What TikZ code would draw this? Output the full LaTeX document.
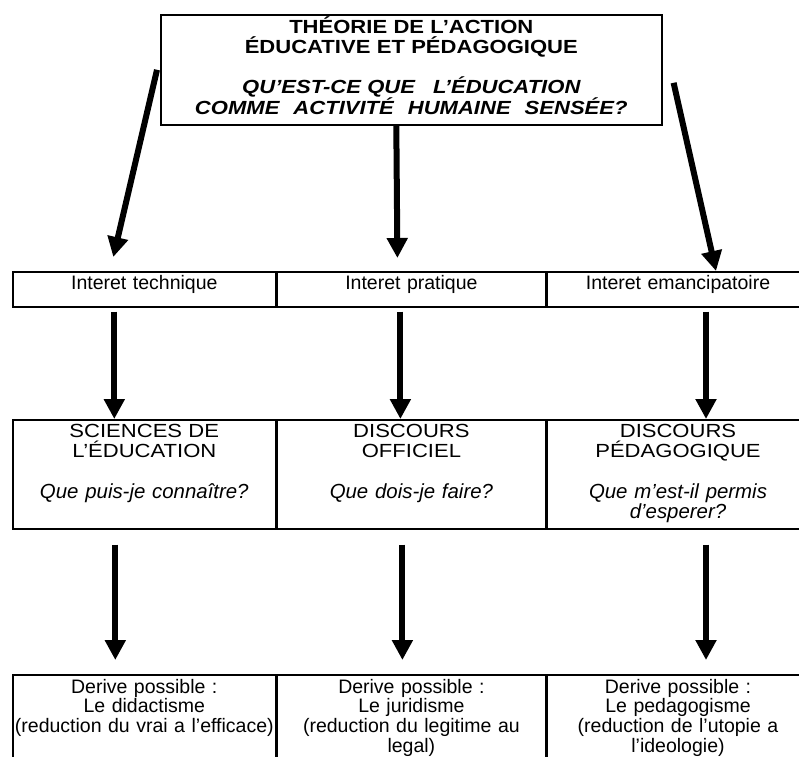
\documentclass[tikz,border=0pt]{standalone}
\usepackage{fontspec}
\setmainfont{Liberation Sans}
\newfontfamily\widefont{Liberation Sans}[FakeStretch=1.16]
\usetikzlibrary{positioning,calc,arrows.meta}

\begin{document}
\begin{tikzpicture}[x=1pt,y=-1pt,
    cell/.style={draw,line width=1.6pt,anchor=north west,inner sep=0pt},
    txt/.style={anchor=base,text width=280pt,align=center,inner sep=0pt},
    caps/.style={font=\widefont\fontsize{19}{20}\selectfont},
    plain/.style={font=\fontsize{19.5}{19.7}\selectfont},
    ital/.style={font=\itshape\fontsize{20.4}{20}\selectfont},
    arr/.style={line width=6pt,-{Triangle[length=20pt,width=20pt]}}]
  \useasboundingbox (0,0) rectangle (799,756);

  %% Boxes.
  % top box
  \node[cell,minimum width=501pt,minimum height=110pt] (theory) at (160,14) {};
  % interets
  \node[cell,minimum width=263pt,minimum height=35pt] (tech) at (12,271) {};
  \node[cell,minimum width=268pt,minimum height=35pt] (prat) at (tech.north east) {};
  \node[cell,minimum width=262pt,minimum height=35pt] (eman) at (prat.north east) {};
  % discours
  \node[cell,minimum width=263pt,minimum height=109pt] (sci) at (12,419) {};
  \node[cell,minimum width=268pt,minimum height=109pt] (off) at (sci.north east) {};
  \node[cell,minimum width=262pt,minimum height=109pt] (ped) at (off.north east) {};
  % derives
  \node[cell,minimum width=263pt,minimum height=100pt] (did) at (12,674) {};
  \node[cell,minimum width=268pt,minimum height=100pt] (jur) at (did.north east) {};
  \node[cell,minimum width=262pt,minimum height=100pt] (pedag) at (jur.north east) {};

  %% Texts.
  \node[txt,text width=490pt,font=\widefont\bfseries\fontsize{19}{20}\selectfont]
    (title) at ([yshift=-19pt]theory.north) {THÉORIE DE L’ACTION\\ÉDUCATIVE ET PÉDAGOGIQUE};
  \node[txt,text width=490pt,font=\widefont\bfseries\itshape\fontsize{19}{20}\selectfont]
    (question) at ([yshift=-79pt]theory.north)
    {QU’EST-CE QUE\hspace{18pt}L’ÉDUCATION\\
     COMME\hspace{14pt}ACTIVITÉ\hspace{14pt}HUMAINE\hspace{14pt}SENSÉE?};

  \node[txt,plain] (techtxt) at ([yshift=-18pt]tech.north) {Interet technique};
  \node[txt,plain] (prattxt) at ([yshift=-18pt]prat.north) {Interet pratique};
  \node[txt,plain] (emantxt) at ([yshift=-18pt]eman.north) {Interet emancipatoire};

  \node[txt,caps] (scitxt) at ([yshift=-18pt]sci.north) {SCIENCES DE\\L’ÉDUCATION};
  \node[txt,caps] (offtxt) at ([yshift=-18pt]off.north) {DISCOURS\\OFFICIEL};
  \node[txt,caps] (pedtxt) at ([yshift=-18pt]ped.north) {DISCOURS\\PÉDAGOGIQUE};
  \node[txt,ital] (sciq) at ([yshift=-79pt]sci.north) {Que puis-je connaître?};
  \node[txt,ital] (offq) at ([yshift=-79pt]off.north) {Que dois-je faire?};
  \node[txt,ital] (pedq) at ([yshift=-79pt]ped.north) {Que m’est-il permis\\d’esperer?};

  \node[txt,plain] (didtxt) at ([yshift=-19pt]did.north)
    {Derive possible :\\Le didactisme\\(reduction du vrai a l’efficace)};
  \node[txt,plain] (jurtxt) at ([yshift=-19pt]jur.north)
    {Derive possible :\\Le juridisme\\(reduction du legitime au\\legal)};
  \node[txt,plain] (pedagtxt) at ([yshift=-19pt]pedag.north)
    {Derive possible :\\Le pedagogisme\\(reduction de l’utopie a\\l’ideologie)};

  %% Arrows.
  \draw[arr] ([xshift=-3pt]theory.west) -- ([xshift=-31pt,yshift=14pt]tech.north);
  \draw[arr] ([xshift=-15pt]theory.south) -- ([xshift=-14pt,yshift=13pt]prat.north);
  \draw[arr] ([xshift=11pt,yshift=-13pt]theory.east) -- ([xshift=38pt]eman.north);
  \foreach \a/\b/\s in {tech/sci/-30,prat/off/-11,eman/ped/28} {
    \draw[arr] ([xshift=\s pt,yshift=-4pt]\a.south) -- ([xshift=\s pt]\b.north);
  }
  \foreach \a/\b/\s in {sci/did/-29,off/jur/-9,ped/pedag/28} {
    \draw[arr] ([xshift=\s pt,yshift=-15pt]\a.south) -- ([xshift=\s pt,yshift=14pt]\b.north);
  }
\end{tikzpicture}
\end{document}
